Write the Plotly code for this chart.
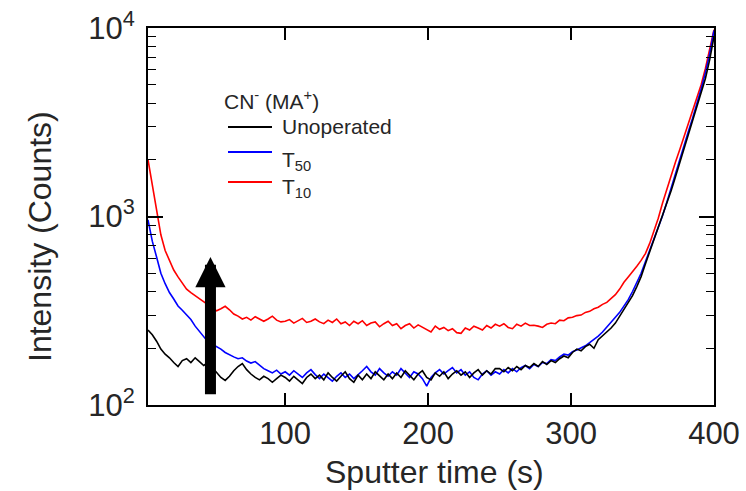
import plotly.graph_objects as go
import math

# ---------------- data ----------------
time_s = [4, 7, 10, 13, 16, 19, 22, 25, 28, 31, 34, 37, 40, 43, 46, 49, 52, 55, 58, 61,
          64, 67, 70, 73, 76, 79, 82, 85, 88, 91, 94, 97, 100, 103, 106, 109, 112, 115, 118, 121,
          124, 127, 130, 133, 136, 139, 142, 145, 148, 151, 154, 157, 160, 163, 166, 169, 172, 175, 178, 181,
          184, 187, 190, 193, 196, 199, 202, 205, 208, 211, 214, 217, 220, 223, 226, 229, 232, 235, 238, 241,
          244, 247, 250, 253, 256, 259, 262, 265, 268, 271, 274, 277, 280, 283, 286, 289, 292, 295, 298, 301,
          304, 307, 310, 313, 316, 319, 322, 325, 328, 331, 334, 337, 340, 343, 346, 349, 352, 355, 358, 361,
          364, 367, 370, 373, 376, 379, 382, 385, 388, 391, 394, 397, 400]

unoperated = [250, 236, 218, 198, 186, 178, 168, 160, 172, 176, 168, 178, 170, 162, 168, 158, 150, 140, 135, 142,
              152, 160, 166, 154, 146, 140, 136, 142, 138, 132, 138, 144, 140, 134, 142, 136, 130, 140, 146, 138,
              144, 136, 148, 140, 134, 142, 150, 138, 132, 144, 136, 146, 138, 150, 142, 136, 146, 138, 148, 140,
              152, 144, 136, 146, 152, 140, 136, 148, 142, 150, 138, 146, 152, 144, 150, 140, 148, 154, 144, 152,
              146, 156, 156, 150, 158, 152, 160, 154, 162, 158, 166, 160, 170, 164, 172, 168, 176, 182, 178, 190,
              198, 194, 204, 210, 200, 222, 232, 244, 256, 272, 296, 320, 345, 380, 425, 480, 560, 650, 750, 860,
              990, 1160, 1370, 1620, 1920, 2280, 2700, 3200, 3800, 4500, 5400, 6800, 9000]

t50 = [960, 740, 610, 500, 440, 395, 365, 335, 318, 300, 284, 262, 246, 230, 216, 210, 204, 198, 190, 184,
       180, 176, 178, 171, 167, 170, 162, 156, 152, 148, 153, 146, 150, 144, 152, 146, 140, 148, 154, 145,
       138, 146, 140, 134, 142, 148, 140, 146, 138, 144, 152, 160, 150, 144, 156, 148, 142, 150, 144, 156,
       148, 140, 150, 146, 138, 126, 140, 148, 154, 146, 152, 158, 148, 154, 144, 150, 140, 136, 146, 152,
       144, 150, 146, 154, 148, 156, 150, 158, 162, 156, 164, 160, 168, 166, 174, 172, 180, 186, 184, 192,
       196, 200, 206, 214, 222, 232, 244, 258, 274, 292, 310, 335, 362, 400, 445, 500, 575, 660, 765, 880,
       1010, 1190, 1420, 1690, 2000, 2380, 2820, 3320, 3950, 4750, 5800, 7300, 9700]

t10 = [2000, 1450, 1080, 800, 660, 580, 520, 478, 445, 412, 395, 380, 368, 352, 338, 326, 316, 324, 334, 320,
       304, 296, 286, 292, 282, 294, 286, 278, 286, 296, 282, 276, 278, 284, 272, 280, 288, 274, 278, 286,
       276, 270, 282, 274, 286, 270, 276, 264, 278, 270, 280, 264, 272, 276, 260, 270, 278, 264, 270, 254,
       264, 270, 256, 266, 258, 250, 244, 262, 252, 258, 248, 254, 242, 240, 256, 250, 262, 256, 250, 264,
       256, 268, 262, 270, 258, 254, 268, 262, 272, 264, 265, 262, 258, 268, 272, 270, 282, 280, 290, 292,
       298, 300, 310, 314, 324, 330, 342, 350, 368, 385, 412, 448, 478, 508, 545, 585, 636, 720, 840, 980,
       1180, 1400, 1660, 1940, 2260, 2650, 3080, 3550, 4200, 5000, 6100, 7600, 9800]

series_names = ["Unoperated", "T<sub>50</sub>", "T<sub>10</sub>"]
series_colors = ["#000000", "#0000ff", "#ff0000"]
legend_title = "CN<sup>-</sup> (MA<sup>+</sup>)"

x_ticks = [100, 200, 300, 400]
x_tick_text = ["100", "200", "300", "400"]
y_ticks = [100, 1000, 10000]
y_tick_text = ["10<sup>2</sup>", "10<sup>3</sup>", "10<sup>4</sup>"]
y_minor = [200, 300, 400, 500, 600, 700, 800, 900, 2000, 3000, 4000, 5000, 6000, 7000, 8000, 9000]

arrow_time = 47.7
arrow_low, arrow_high = 112, 610

# ---------------- figure ----------------
FONT = "Liberation Sans, Arial, Helvetica, sans-serif"
TXT = "#262626"

fig = go.Figure()
# draw order: red, blue, black (black on top)
for data, name, color in [(t10, series_names[2], series_colors[2]),
                          (t50, series_names[1], series_colors[1]),
                          (unoperated, series_names[0], series_colors[0])]:
    fig.add_trace(go.Scatter(x=time_s, y=data, mode="lines", name=name, showlegend=False,
                             line=dict(color=color, width=1.6)))

fig.update_layout(
    width=746, height=491,
    margin=dict(l=148, r=32, t=28, b=86),
    paper_bgcolor="white", plot_bgcolor="white",
    font=dict(family=FONT, color=TXT),
    showlegend=False,
    xaxis=dict(
        range=[4, 400], tickvals=x_ticks, ticktext=x_tick_text,
        ticks="inside", ticklen=12, tickwidth=1.5, tickcolor="black",
        showline=True, linewidth=2, linecolor="black", mirror="ticks",
        showgrid=False, zeroline=False, automargin=False,
        tickfont=dict(size=31, family=FONT, color=TXT),
    ),
    yaxis=dict(
        type="log", range=[2, 4], tickvals=y_ticks, ticktext=y_tick_text,
        ticks="inside", ticklen=15, tickwidth=1.5, tickcolor="black",
        minor=dict(tickvals=y_minor, ticks="inside", ticklen=8, tickwidth=1.2, tickcolor="black"),
        showline=True, linewidth=2, linecolor="black", mirror="ticks",
        showgrid=False, zeroline=False, ticklabelstandoff=5, automargin=False,
        tickfont=dict(size=31, family=FONT, color=TXT),
    ),
)

# paper-coordinate helpers
def px_to_paper_x(px):
    return (px - 148) / 566

def py_to_paper_y(py):
    return 1 - (py - 28) / 377

# axis titles
fig.add_annotation(text="Intensity (Counts)", xref="paper", yref="paper",
                   x=px_to_paper_x(40), y=py_to_paper_y(237), xanchor="center", yanchor="middle",
                   textangle=-90, showarrow=False,
                   font=dict(size=32, family=FONT, color=TXT))
fig.add_annotation(text="Sputter time (s)", xref="paper", yref="paper",
                   x=px_to_paper_x(434), y=py_to_paper_y(472), xanchor="center", yanchor="middle",
                   showarrow=False,
                   font=dict(size=32, family=FONT, color=TXT))

# legend drawn by hand
LEG_FONT = dict(size=21, family=FONT, color=TXT)
fig.add_annotation(text=legend_title, xref="paper", yref="paper",
                   x=px_to_paper_x(222), y=py_to_paper_y(100), xanchor="left", yanchor="middle",
                   showarrow=False, font=LEG_FONT)
leg_rows = [(series_names[0], series_colors[0], 127, 127),
            (series_names[1], series_colors[1], 152, 161),
            (series_names[2], series_colors[2], 182, 188)]
for name, color, line_y, text_y in leg_rows:
    fig.add_shape(type="line", xref="paper", yref="paper",
                  x0=px_to_paper_x(228), x1=px_to_paper_x(272),
                  y0=py_to_paper_y(line_y), y1=py_to_paper_y(line_y),
                  line=dict(color=color, width=1.8))
    fig.add_annotation(text=name, xref="paper", yref="paper",
                       x=px_to_paper_x(280), y=py_to_paper_y(text_y), xanchor="left", yanchor="middle",
                       showarrow=False, font=LEG_FONT)

# black arrow
fig.add_annotation(x=arrow_time, y=math.log10(arrow_high), xref="x", yref="y",
                   ax=arrow_time, ay=math.log10(arrow_low), axref="x", ayref="y",
                   text="", showarrow=True, arrowhead=2, arrowsize=0.55,
                   arrowwidth=11, arrowcolor="black", standoff=0, startstandoff=0)

fig.write_html("out.html")
